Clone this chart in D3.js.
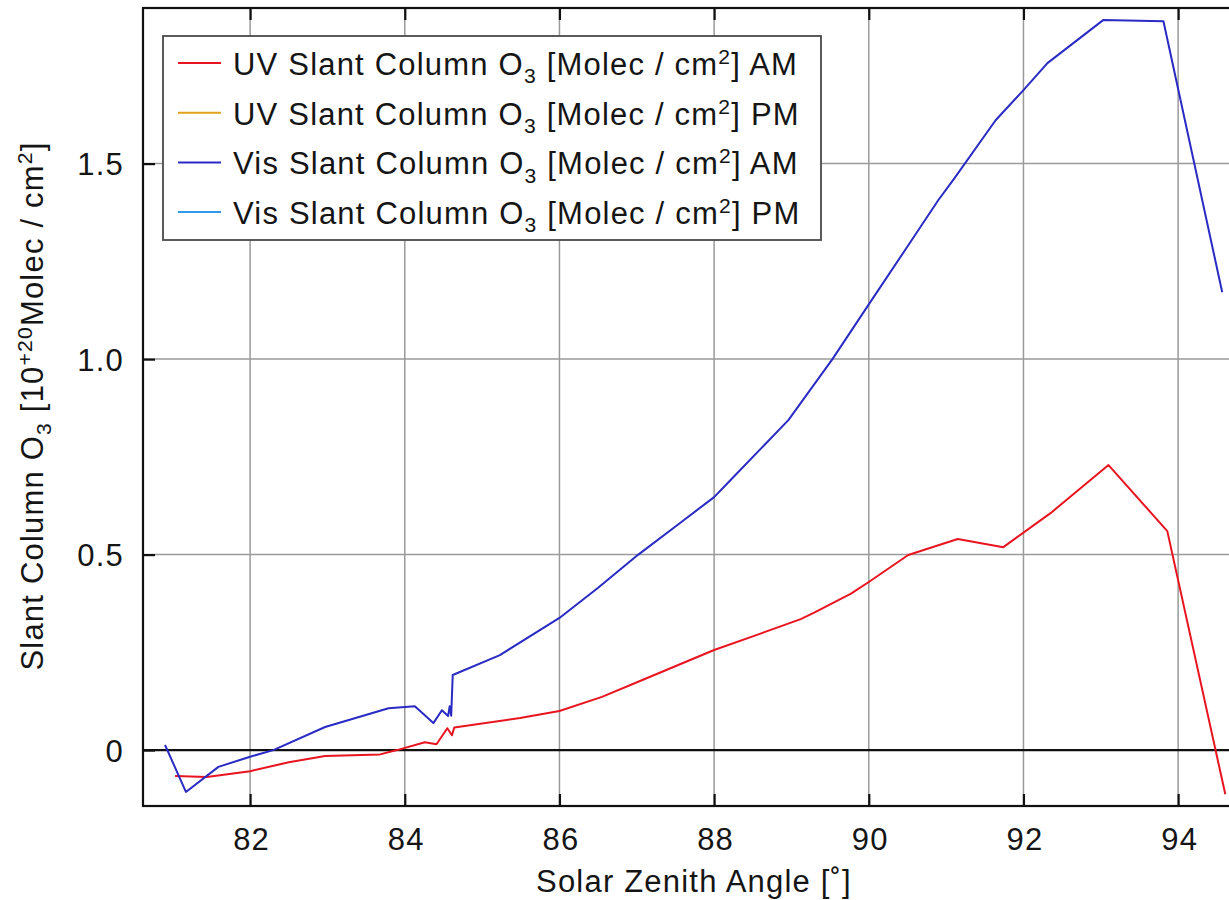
<!DOCTYPE html>
<html>
<head>
<meta charset="utf-8">
<script src="https://cdn.jsdelivr.net/npm/d3@7"></script>
<style>
  body { margin: 0; background: #fff; }
  svg { display: block; }
  text { font-family: "Liberation Sans", Arial, Helvetica, sans-serif; fill: #151515; }
</style>
</head>
<body>
<svg id="chart" width="1229" height="900"></svg>
<script>
// Solar zenith angle (deg) and ozone slant columns (10^20 molec / cm^2)
const uvAmSza   = [81.03, 81.44, 82.00, 82.50, 82.97, 83.68, 83.90, 84.26, 84.41, 84.55, 84.61, 84.64, 85.49, 86.00, 86.55, 87.08, 88.00, 88.60, 89.12, 89.30, 89.77, 90.00, 90.51, 91.15, 91.74, 92.35, 93.10, 93.86, 94.61];
const uvAmSlant = [-0.066, -0.069, -0.054, -0.031, -0.015, -0.011, 0.000, 0.020, 0.015, 0.056, 0.038, 0.058, 0.082, 0.100, 0.136, 0.180, 0.256, 0.298, 0.335, 0.352, 0.400, 0.430, 0.499, 0.540, 0.519, 0.606, 0.729, 0.560, -0.113];

const uvPmSza   = [];
const uvPmSlant = [];

const visAmSza   = [80.90, 81.17, 81.59, 82.00, 82.30, 82.97, 83.79, 84.13, 84.37, 84.48, 84.56, 84.58, 84.60, 84.62, 85.23, 86.00, 86.50, 87.02, 87.50, 88.00, 88.21, 88.96, 89.53, 90.00, 90.50, 90.90, 91.09, 91.64, 92.00, 92.31, 93.03, 93.81, 94.57];
const visAmSlant = [0.013, -0.107, -0.043, -0.017, 0.000, 0.059, 0.107, 0.112, 0.069, 0.102, 0.087, 0.112, 0.088, 0.192, 0.243, 0.338, 0.415, 0.500, 0.572, 0.647, 0.690, 0.844, 1.000, 1.140, 1.288, 1.407, 1.458, 1.611, 1.688, 1.757, 1.867, 1.864, 1.171];

const visPmSza   = [];
const visPmSlant = [];

const xTicks = [82, 84, 86, 88, 90, 92, 94];
const yTicks = [0, 0.5, 1.0, 1.5];
const yTickLabels = ["0", "0.5", "1.0", "1.5"];

const seriesNames = [
  "UV Slant Column O3 [Molec / cm2] AM",
  "UV Slant Column O3 [Molec / cm2] PM",
  "Vis Slant Column O3 [Molec / cm2] AM",
  "Vis Slant Column O3 [Molec / cm2] PM"
];
const seriesColors = ["#e8141f", "#e0a21c", "#2a2ac4", "#2f9ae8"];

const series = [
  { name: seriesNames[0], color: seriesColors[0], pts: d3.zip(uvAmSza, uvAmSlant) },
  { name: seriesNames[1], color: seriesColors[1], pts: d3.zip(uvPmSza, uvPmSlant) },
  { name: seriesNames[2], color: seriesColors[2], pts: d3.zip(visAmSza, visAmSlant) },
  { name: seriesNames[3], color: seriesColors[3], pts: d3.zip(visPmSza, visPmSlant) }
];

const FS = 31;          // base font size
const LS = "1.2px";     // letter spacing
const svg = d3.select("#chart");

const plot = { left: 143, top: 8, right: 1240, bottom: 806 };
const x = d3.scaleLinear().domain([80.615, 94.8]).range([plot.left, plot.right]);
const y = d3.scaleLinear().domain([-0.143, 1.898]).range([plot.bottom, plot.top]);

// text with sub/superscript parts: [{t, s}] where s is "sub", "sup" or undefined
function richText(textSel, parts, fs) {
  let shift = 0;
  parts.forEach(p => {
    const want = p.s === "sub" ? 0.27 * fs : p.s === "sup" ? -0.36 * fs : 0;
    const ts = textSel.append("tspan").text(p.t).attr("dy", want - shift);
    if (p.s) ts.attr("font-size", (0.68 * fs) + "px");
    shift = want;
  });
}
function parseRich(str) {
  // "O3" -> subscript 3, "cm2" -> superscript 2, "^+20" -> superscript +20
  const out = [];
  const re = /(O)(3)|(cm)(2)|\^(\+20)/g;
  let last = 0, m;
  while ((m = re.exec(str)) !== null) {
    if (m[1]) { out.push({ t: str.slice(last, m.index) + "O" }); out.push({ t: "3", s: "sub" }); }
    else if (m[3]) { out.push({ t: str.slice(last, m.index) + "cm" }); out.push({ t: "2", s: "sup" }); }
    else { out.push({ t: str.slice(last, m.index) }); out.push({ t: m[5], s: "sup" }); }
    last = re.lastIndex;
  }
  out.push({ t: str.slice(last) });
  return out.filter(p => p.t.length);
}

// clip region for everything inside the frame
svg.append("defs").append("clipPath").attr("id", "plotClip")
  .append("rect").attr("x", plot.left).attr("y", plot.top)
  .attr("width", plot.right - plot.left).attr("height", plot.bottom - plot.top);

// grid
const grid = svg.append("g").attr("stroke", "#9a9a9a").attr("stroke-width", 1.5);
grid.selectAll("line.vx").data(xTicks).join("line")
  .attr("x1", d => x(d)).attr("x2", d => x(d))
  .attr("y1", plot.top).attr("y2", plot.bottom);
grid.selectAll("line.hy").data(yTicks.filter(d => d !== 0)).join("line")
  .attr("x1", plot.left).attr("x2", plot.right)
  .attr("y1", d => y(d)).attr("y2", d => y(d));

// zero line
svg.append("line")
  .attr("x1", plot.left).attr("x2", plot.right)
  .attr("y1", y(0)).attr("y2", y(0))
  .attr("stroke", "#111").attr("stroke-width", 2.2);

// data lines
const line = d3.line().x(d => x(d[0])).y(d => y(d[1]));
svg.append("g").attr("clip-path", "url(#plotClip)")
  .selectAll("path").data(series).join("path")
  .attr("d", d => d.pts.length ? line(d.pts) : null)
  .attr("fill", "none")
  .attr("stroke", d => d.color)
  .attr("stroke-width", 2)
  .attr("stroke-linejoin", "round");

// frame
svg.append("rect")
  .attr("x", plot.left).attr("y", plot.top)
  .attr("width", plot.right - plot.left).attr("height", plot.bottom - plot.top)
  .attr("fill", "none").attr("stroke", "#111").attr("stroke-width", 2.2);

// inward ticks on bottom, top and left
const tickLen = 12;
const axB = d3.axisBottom(x).tickValues(xTicks).tickSize(-tickLen).tickFormat(d3.format("d"));
const axT = d3.axisTop(x).tickValues(xTicks).tickSize(-tickLen).tickFormat("");
const axL = d3.axisLeft(y).tickValues(yTicks).tickSize(-tickLen).tickFormat((d, i) => yTickLabels[i]);

function styleAxis(g) {
  g.select(".domain").remove();
  g.selectAll(".tick line").attr("stroke", "#111").attr("stroke-width", 2.2);
  g.selectAll(".tick text")
    .attr("font-size", FS + "px")
    .attr("font-family", "Liberation Sans, Arial, sans-serif")
    .attr("fill", "#151515")
    .style("letter-spacing", LS);
}
const gB = svg.append("g").attr("transform", `translate(0,${plot.bottom})`).call(axB).call(styleAxis);
gB.selectAll(".tick text").attr("y", 0).attr("dy", 0).attr("transform", "translate(1,44)");
svg.append("g").attr("transform", `translate(0,${plot.top})`).call(axT).call(styleAxis);
const gL = svg.append("g").attr("transform", `translate(${plot.left},0)`).call(axL).call(styleAxis);
gL.selectAll(".tick text").attr("x", -19).attr("dy", 0).attr("y", 11);

// axis titles
const xt = svg.append("text")
  .attr("x", 694).attr("y", 892)
  .attr("text-anchor", "middle")
  .attr("font-size", FS + "px")
  .style("letter-spacing", LS)
  .text("Solar Zenith Angle [˚]");

const yt = svg.append("text")
  .attr("transform", "translate(43,406) rotate(-90)")
  .attr("text-anchor", "middle")
  .attr("font-size", FS + "px")
  .style("letter-spacing", LS);
richText(yt, parseRich("Slant Column O3 [10^+20Molec / cm2]"), FS);

// legend
const lg = { x: 163, y: 36, w: 658, h: 204, row0: 63, rowH: 49.7 };
const legend = svg.append("g");
legend.append("rect")
  .attr("x", lg.x).attr("y", lg.y).attr("width", lg.w).attr("height", lg.h)
  .attr("fill", "#fff").attr("stroke", "#4a4a4a").attr("stroke-width", 1.8);
const rows = legend.selectAll("g.row").data(series).join("g")
  .attr("transform", (d, i) => `translate(0,${lg.row0 + i * lg.rowH})`);
rows.append("line")
  .attr("x1", 178).attr("x2", 221).attr("y1", 0).attr("y2", 0)
  .attr("stroke", d => d.color).attr("stroke-width", 2);
rows.each(function(d) {
  const t = d3.select(this).append("text")
    .attr("x", 233).attr("y", 12)
    .attr("font-size", FS + "px")
    .style("letter-spacing", LS);
  richText(t, parseRich(d.name), FS);
});
</script>
</body>
</html>
